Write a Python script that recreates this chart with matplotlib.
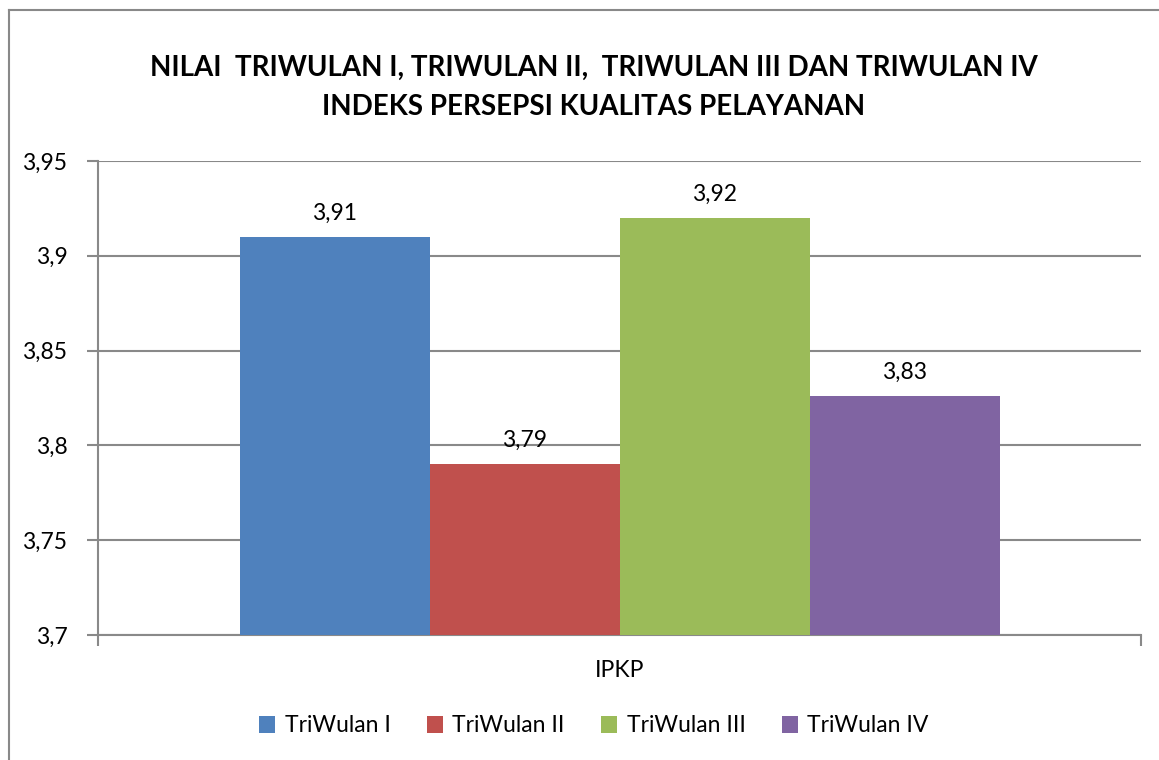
import matplotlib.pyplot as plt
from matplotlib.lines import Line2D

categories = ["IPKP"]
series_names = ["TriWulan I", "TriWulan II", "TriWulan III", "TriWulan IV"]
values = [3.91, 3.79, 3.92, 3.826]
value_labels = ["3,91", "3,79", "3,92", "3,83"]
yticks = [3.7, 3.75, 3.8, 3.85, 3.9, 3.95]
ytick_labels = ["3,7", "3,75", "3,8", "3,85", "3,9", "3,95"]
colors = ["#4F81BD", "#C0504D", "#9BBB59", "#8064A2"]

plt.rcParams['font.family'] = ['Lato', 'DejaVu Sans']
grid_col = "#898989"
fs = 16.5

fig = plt.figure(figsize=(11.59, 7.6), dpi=100)
ax = fig.add_axes([98 / 1159, 1 - 635 / 760, (1141 - 98) / 1159, (635 - 161) / 760])

w = 190 / 1043
for i, (name, v) in enumerate(zip(series_names, values)):
    x = (i - 1.5) * w
    ax.bar(x, v - 3.7, bottom=3.7, width=w, color=colors[i], label=name, zorder=3)
    ax.text(x, v + 0.007, value_labels[i], ha="center", va="bottom", fontsize=fs)

ax.set_xlim(-0.5, 0.5)
ax.set_ylim(3.7, 3.95)
ax.set_yticks(yticks)
ax.set_yticklabels(ytick_labels, fontsize=fs)
ax.set_xticks([-0.5, 0.5])
ax.set_xticklabels(["", ""])
ax.text(0.5, -0.074, categories[0], transform=ax.transAxes, ha="center", va="center", fontsize=fs)
ax.yaxis.grid(True, color=grid_col, linewidth=1.5, zorder=0)
ax.tick_params(axis="y", length=8, width=1.5, color=grid_col, pad=14)
ax.tick_params(axis="x", length=8, width=1.5, color=grid_col)
for s in ["top", "right"]:
    ax.spines[s].set_visible(False)
for s in ["left", "bottom"]:
    ax.spines[s].set_color(grid_col)
    ax.spines[s].set_linewidth(1.5)

tx = 594 / 1159
fig.text(tx, 1 - 68 / 760, "NILAI  TRIWULAN I, TRIWULAN II,  TRIWULAN III DAN TRIWULAN IV",
         ha="center", va="center", fontsize=20, fontweight="bold")
fig.text(tx, 1 - 107 / 760, "INDEKS PERSEPSI KUALITAS PELAYANAN",
         ha="center", va="center", fontsize=20, fontweight="bold")

# outer chart border (left and top only visible)
fig.add_artist(Line2D([9 / 1159, 9 / 1159], [0, 1 - 10 / 760], color=grid_col, lw=1.5))
fig.add_artist(Line2D([9 / 1159, 1], [1 - 10 / 760, 1 - 10 / 760], color=grid_col, lw=1.5))

fig.legend(loc="center", bbox_to_anchor=(594 / 1159, 1 - 726 / 760), ncol=4, frameon=False,
           fontsize=fs, handlelength=0.7, handleheight=0.7, handletextpad=0.4, columnspacing=1.6)

fig.savefig("out.png", dpi=100)
